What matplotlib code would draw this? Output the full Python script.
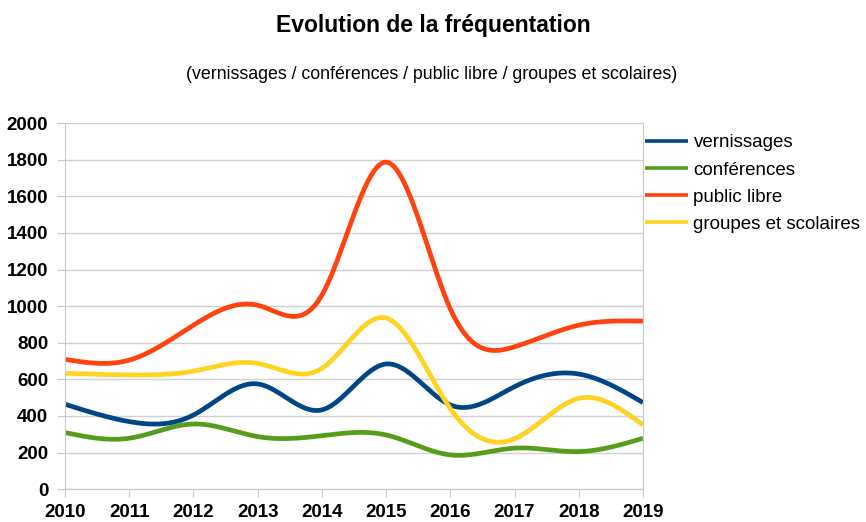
import matplotlib
matplotlib.use("Agg")
import matplotlib.pyplot as plt
import numpy as np

plt.rcParams["font.family"] = ["Liberation Sans", "DejaVu Sans"]

years = [2010, 2011, 2012, 2013, 2014, 2015, 2016, 2017, 2018, 2019]
vernissages = [464, 369, 405, 575, 433, 684, 460, 560, 629, 473]
conferences = [309, 278, 356, 287, 292, 296, 187, 224, 205, 278]
public_libre = [709, 705, 896, 1005, 1060, 1787, 985, 778, 896, 918]
groupes = [633, 624, 645, 687, 660, 935, 440, 275, 496, 350]

series_names = ["vernissages", "conférences", "public libre", "groupes et scolaires"]
colors = ["#004586", "#579d1c", "#ff420e", "#ffd320"]


def natural_spline(x, y, n=400):
    # natural cubic spline, like the office chart "smooth" lines
    x = np.asarray(x, float)
    y = np.asarray(y, float)
    k = len(x)
    h = np.diff(x)
    A = np.zeros((k, k))
    b = np.zeros(k)
    A[0, 0] = 1
    A[-1, -1] = 1
    for i in range(1, k - 1):
        A[i, i - 1] = h[i - 1]
        A[i, i] = 2 * (h[i - 1] + h[i])
        A[i, i + 1] = h[i]
        b[i] = 6 * ((y[i + 1] - y[i]) / h[i] - (y[i] - y[i - 1]) / h[i - 1])
    M = np.linalg.solve(A, b)
    xs = np.linspace(x[0], x[-1], n)
    idx = np.clip(np.searchsorted(x, xs) - 1, 0, k - 2)
    x0, x1 = x[idx], x[idx + 1]
    hh = x1 - x0
    t0 = x1 - xs
    t1 = xs - x0
    ys = (M[idx] * t0 ** 3 + M[idx + 1] * t1 ** 3) / (6 * hh) \
        + (y[idx] / hh - M[idx] * hh / 6) * t0 \
        + (y[idx + 1] / hh - M[idx + 1] * hh / 6) * t1
    return xs, ys


fig = plt.figure(figsize=(8.66, 5.22), dpi=100)
ax = fig.add_axes([0.075, 0.063, 0.6675, 0.701])

for name, vals, c in zip(series_names, [vernissages, conferences, public_libre, groupes], colors):
    xs, ys = natural_spline(years, vals)
    ax.plot(xs, ys, color=c, lw=3.4, label=name, solid_capstyle="butt")

ax.set_xlim(2010, 2019)
ax.set_ylim(0, 2000)
ax.set_yticks(range(0, 2001, 200))
ax.set_xticks(years)
ax.yaxis.grid(True, color="#d0d0d0", lw=1)
ax.set_axisbelow(True)
ax.spines["top"].set_visible(False)
for s in ["left", "bottom", "right"]:
    ax.spines[s].set_color("#c8c8c8")
ax.tick_params(axis="y", length=6, color="#c8c8c8", pad=6, labelsize=13.5)
ax.tick_params(axis="x", length=6, color="#c8c8c8", pad=5, labelsize=13.5)
for lab in ax.get_xticklabels() + ax.get_yticklabels():
    lab.set_fontweight("bold")

fig.text(0.5, 0.951, "Evolution de la fréquentation", ha="center", va="center",
         fontsize=16.5, fontweight="bold")
fig.text(0.498, 0.857, "(vernissages / conférences / public libre / groupes et scolaires)",
         ha="center", va="center", fontsize=12.8)

leg = ax.legend(loc="upper left", bbox_to_anchor=(0.99, 0.99), frameon=False, fontsize=13.5,
                handlelength=2.3, handletextpad=0.3, labelspacing=0.53, borderaxespad=0.0)
for line in leg.get_lines():
    line.set_linewidth(2.6)

fig.savefig("out.png", dpi=100)
